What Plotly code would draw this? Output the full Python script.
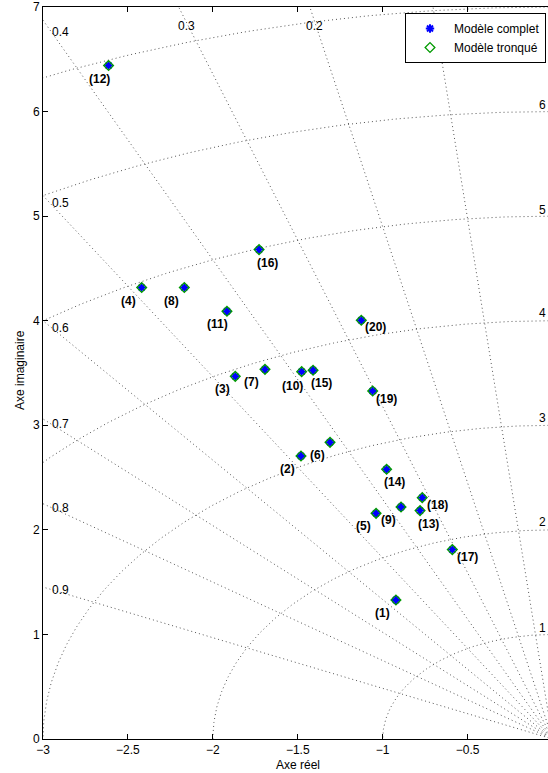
import numpy as np
import plotly.graph_objects as go

# ---------------- data ----------------
pole_labels = ["(1)", "(2)", "(3)", "(4)", "(5)", "(6)", "(7)", "(8)", "(9)", "(10)",
               "(11)", "(12)", "(13)", "(14)", "(15)", "(16)", "(17)", "(18)", "(19)", "(20)"]
pole_re = [-0.922, -1.481, -1.868, -2.419, -1.039, -1.310, -1.693, -2.168, -0.892, -1.477,
           -1.917, -2.614, -0.780, -0.977, -1.410, -1.728, -0.590, -0.767, -1.059, -1.126]
pole_im = [1.329, 2.706, 3.468, 4.317, 2.158, 2.837, 3.535, 4.317, 2.219, 3.513,
           4.090, 6.440, 2.184, 2.579, 3.526, 4.680, 1.811, 2.308, 3.328, 4.004]

origin_re = [0.0]
origin_im = [0.0]

complet_re = pole_re + origin_re
complet_im = pole_im + origin_im
tronque_re = list(pole_re)
tronque_im = list(pole_im)

x_tickvals = [-3, -2.5, -2, -1.5, -1, -0.5]
x_ticktext = ["\u22123", "\u22122.5", "\u22122", "\u22121.5", "\u22121", "\u22120.5"]
y_tickvals = [0, 1, 2, 3, 4, 5, 6, 7]
y_ticktext = ["0", "1", "2", "3", "4", "5", "6", "7"]

zeta_values = [0.1, 0.2, 0.3, 0.4, 0.5, 0.6, 0.7, 0.8, 0.9]
wn_values = [1, 2, 3, 4, 5, 6, 7]

# ---------------- layout geometry ----------------
W, H = 548, 773
ML, MT, MB = 43, 7, 34
PLOT_W = W - ML
PLOT_H = H - MT - MB
X0 = -3.0
PX_PER_X = 169.84
X1 = X0 + PLOT_W / PX_PER_X
Y0, Y1 = 0.0, 7.0
PX_PER_Y = PLOT_H / (Y1 - Y0)


def px2x(px):
    return X0 + (px - ML) / PX_PER_X


def py2y(py):
    return Y1 - (py - MT) / PX_PER_Y


FONT = "Liberation Sans, Arial, Helvetica, sans-serif"
GRID_COLOR = "#555555"
GRID_DASH = "1px,3px"
BLUE = "#0000ff"
GREEN = "#009a00"

fig = go.Figure()

# ---------------- s-plane grid (sgrid) ----------------
gx, gy = [], []
R = 12.0
for z in zeta_values:
    gx += [0.0, -R * z, None]
    gy += [0.0, R * np.sqrt(1 - z * z), None]
th = np.linspace(np.pi / 2, np.pi, 240)
for wn in wn_values:
    gx += list(wn * np.cos(th)) + [None]
    gy += list(wn * np.sin(th)) + [None]

fig.add_trace(go.Scatter(x=gx, y=gy, mode="lines",
                         line=dict(color=GRID_COLOR, width=1, dash=GRID_DASH),
                         hoverinfo="skip", showlegend=False))

# ---------------- poles ----------------
fig.add_trace(go.Scatter(x=complet_re, y=complet_im, mode="markers", name="Modèle complet",
                         marker=dict(symbol="asterisk-open", size=7, color=BLUE,
                                     line=dict(color=BLUE, width=2)),
                         cliponaxis=False))
fig.add_trace(go.Scatter(x=tronque_re, y=tronque_im, mode="markers", name="Modèle tronqué",
                         marker=dict(symbol="diamond-open", size=7.5, color=GREEN,
                                     line=dict(color=GREEN, width=1.3)),
                         cliponaxis=False))

# ---------------- pole labels ----------------
label_offsets = [(-13, 13), (-13, 13), (-13, 13), (-13, 13), (-13, 13), (-13, 13), (-13, 13),
                 (-13, 13), (-13, 13), (-9, 14), (-9, 13), (-9, 13), (8, 13), (8, 13), (8, 13),
                 (8, 13), (15, 7), (15, 7), (14, 8), (14, 7)]
annotations = []
for lab, xr, yi, (dx, dy) in zip(pole_labels, pole_re, pole_im, label_offsets):
    annotations.append(dict(x=xr, y=yi, text="<b>" + lab + "</b>", showarrow=False,
                            xshift=dx, yshift=-dy, xanchor="center", yanchor="middle",
                            font=dict(family=FONT, size=12, color="black")))

# damping labels (pixel positions of text)
zeta_label_pos = [("0.2", 304, 26), ("0.3", 176, 26), ("0.4", 50, 32), ("0.5", 50, 203),
                  ("0.6", 50, 328), ("0.7", 50, 424), ("0.8", 50, 508), ("0.9", 50, 590)]
for t, px, py in zeta_label_pos:
    annotations.append(dict(x=px2x(px), y=py2y(py), text=t, showarrow=False,
                            xanchor="left", yanchor="middle",
                            font=dict(family=FONT, size=12, color="black")))

# natural-frequency labels
wn_label_pos = [("1", 628), ("2", 522), ("3", 418), ("4", 313), ("5", 210), ("6", 105)]
for t, py in wn_label_pos:
    annotations.append(dict(x=px2x(537), y=py2y(py), text=t, showarrow=False,
                            xanchor="left", yanchor="middle",
                            font=dict(family=FONT, size=12, color="black")))

# axis titles
annotations.append(dict(xref="paper", yref="paper", x=(298 - ML) / PLOT_W,
                        y=-(765 - (MT + PLOT_H)) / PLOT_H, text="Axe réel", showarrow=False,
                        xanchor="center", yanchor="middle",
                        font=dict(family=FONT, size=12, color="black")))
annotations.append(dict(xref="paper", yref="paper", x=(20 - ML) / PLOT_W,
                        y=1 - (370 - MT) / PLOT_H, text="Axe imaginaire", showarrow=False,
                        textangle=-90, xanchor="center", yanchor="middle",
                        font=dict(family=FONT, size=12, color="black")))

fig.update_layout(
    width=W, height=H,
    margin=dict(l=ML, r=0, t=MT, b=MB, autoexpand=False),
    paper_bgcolor="white", plot_bgcolor="white",
    font=dict(family=FONT, size=12, color="black"),
    annotations=annotations,
    legend=dict(x=(405 - ML) / PLOT_W, y=1 - (13 - MT) / PLOT_H, xanchor="left", yanchor="top",
                bgcolor="white", bordercolor="black", borderwidth=1,
                font=dict(family=FONT, size=12, color="black"),
                itemwidth=38, tracegroupgap=0, itemsizing="trace"),
    xaxis=dict(range=[X0, X1], tickvals=x_tickvals, ticktext=x_ticktext,
               ticks="inside", ticklen=5, tickcolor="black", showline=True, linecolor="black",
               linewidth=1, mirror="ticks", showgrid=False, zeroline=False,
               tickfont=dict(family=FONT, size=12, color="black")),
    yaxis=dict(range=[Y0, Y1], tickvals=y_tickvals, ticktext=y_ticktext,
               ticks="inside", ticklen=5, tickcolor="black", showline=True, linecolor="black",
               linewidth=1, mirror=False, showgrid=False, zeroline=False,
               tickfont=dict(family=FONT, size=12, color="black")),
    showlegend=True,
)

fig.write_html("out.html", config={"displayModeBar": False},
               post_script="document.body.style.margin='0px';")
